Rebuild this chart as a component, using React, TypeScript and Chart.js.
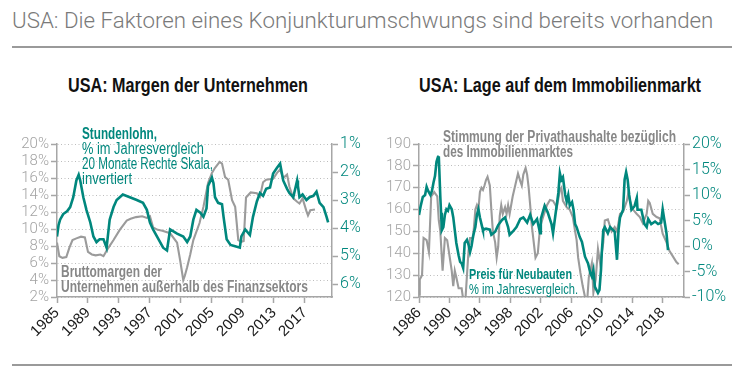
import React, { useEffect, useRef } from "react";
import { Chart, registerables } from "chart.js";
Chart.register(...registerables);

const SANS = "'Liberation Sans', Arial, sans-serif";
const LIGHT = "Roboto, 'Noto Sans', sans-serif";
const TEAL = "#00877d";
const GRAY = "#9b9b9b";
const NOTE_GRAY = "#878787";
const AXIS = "#a6a6a6";

// ---------- Left chart: USA Margen der Unternehmen ----------
const leftXTicks = [1985, 1989, 1993, 1997, 2001, 2005, 2009, 2013, 2017];
const rightAxisLeftTicks = [1, 2, 3, 4, 5, 6];

const marginYears = [
  1985.0, 1985.3, 1985.7, 1986.2, 1986.6, 1987.0, 1987.5, 1988.1, 1988.6, 1989.0,
  1989.5, 1990.0, 1990.6, 1991.0, 1991.5, 1992.3, 1993.1, 1994.0, 1994.5, 1995.2,
  1996.0, 1996.6, 1997.0, 1997.4, 1998.0, 1998.6, 1999.6, 2000.5, 2000.9, 2001.3,
  2001.5, 2001.8, 2002.2, 2002.6, 2003.4, 2003.9, 2004.5, 2005.0, 2005.4, 2006.0,
  2006.3, 2006.7, 2007.1, 2007.6, 2008.0, 2008.2, 2008.4, 2008.8, 2009.1, 2009.4,
  2010.0, 2010.8, 2011.2, 2011.6, 2012.0, 2012.9, 2013.4, 2013.8, 2014.2, 2014.7,
  2015.0, 2015.5, 2016.0, 2016.3, 2016.7, 2017.2, 2017.4, 2017.7, 2018.3,
];
const marginValues = [
  8.4, 6.8, 6.6, 6.7, 7.8, 8.7, 8.9, 9.1, 9.0, 7.3,
  7.0, 6.9, 7.0, 6.8, 7.6, 8.7, 9.9, 11.0, 11.2, 11.4,
  11.5, 11.3, 11.5, 10.2, 9.9, 9.8, 9.5, 8.4, 6.3, 4.0,
  4.5, 5.5, 7.0, 8.7, 10.7, 12.6, 15.4, 16.6, 17.2, 17.9,
  17.7, 16.1, 15.8, 13.4, 12.6, 10.7, 8.7, 8.5, 8.6, 13.7,
  14.3, 14.2, 13.8, 15.5, 15.8, 15.9, 16.6, 17.0, 16.0, 16.4,
  15.0, 13.6, 13.2, 13.0, 13.6, 12.1, 11.6, 12.2, 12.3,
];

const wageYears = [
  1985.0, 1985.2, 1985.4, 1985.8, 1986.3, 1986.7, 1987.1, 1987.5, 1987.8, 1988.0,
  1988.4, 1988.8, 1989.3, 1989.7, 1990.1, 1990.5, 1991.0, 1991.4, 1991.8, 1992.3,
  1992.7, 1993.5, 1994.4, 1995.3, 1996.1, 1996.6, 1997.0, 1997.4, 1997.9, 1998.7,
  1999.2, 1999.6, 2000.5, 2001.3, 2001.8, 2002.2, 2002.6, 2003.0, 2003.5, 2003.9,
  2004.3, 2004.5, 2005.0, 2005.2, 2005.4, 2005.8, 2006.3, 2006.5, 2006.9, 2007.4,
  2008.0, 2008.6, 2008.8, 2009.3, 2009.9, 2010.3, 2010.8, 2011.2, 2011.6, 2012.0,
  2012.5, 2012.9, 2013.4, 2013.8, 2014.0, 2014.2, 2014.7, 2015.0, 2015.5, 2016.0,
  2016.1, 2016.3, 2016.7, 2017.2, 2017.6, 2018.1, 2018.5, 2018.9, 2019.4, 2019.8,
  2020.0,
];
const wageValues = [
  4.3, 3.9, 3.7, 3.5, 3.4, 3.25, 2.9, 2.3, 2.1, 2.3,
  2.9, 3.35, 3.8, 4.3, 4.5, 4.4, 4.4, 4.7, 3.7, 3.25,
  3.0, 2.8, 2.9, 3.0, 3.1, 3.35, 3.8, 4.05, 4.3, 4.7,
  4.8, 4.05, 4.2, 4.3, 4.5, 4.3, 3.7, 3.35, 3.45, 3.6,
  3.3, 2.5, 2.2, 2.4, 2.9, 3.1, 3.15, 3.6, 4.4, 4.6,
  4.65, 4.7, 4.3, 4.05, 4.25, 3.6, 3.05, 2.75, 2.85, 2.6,
  2.55, 2.05, 1.85, 1.7, 2.0, 2.3, 2.6, 2.75, 2.9, 2.3,
  2.5, 2.9, 2.8, 3.0, 2.9, 2.85, 2.7, 3.1, 3.25, 3.6,
  3.8,
];

// ---------- Right chart: USA Lage auf dem Immobilienmarkt ----------
const rightXTicks = [1986, 1990, 1994, 1998, 2002, 2006, 2010, 2014, 2018];

const sentimentYears = [
  1986.0, 1986.1, 1986.4, 1986.6, 1987.0, 1987.3, 1987.6, 1988.0, 1988.4, 1988.6,
  1988.8, 1989.0, 1989.1, 1989.4, 1989.7, 1990.0, 1990.3, 1990.5, 1990.7, 1990.9,
  1991.2, 1991.6, 1991.8, 1992.1, 1992.3, 1992.5, 1992.7, 1993.1, 1993.4, 1993.6,
  1993.8, 1994.0, 1994.2, 1994.4, 1994.6, 1994.8, 1995.0, 1995.3, 1995.5, 1995.7,
  1996.0, 1996.2, 1996.4, 1996.6, 1996.8, 1997.0, 1997.3, 1997.5, 1997.7, 1997.9,
  1998.3, 1998.8, 1999.0, 1999.3, 1999.5, 1999.7, 2000.0, 2000.2, 2000.4, 2000.6,
  2000.8, 2001.0, 2001.3, 2001.6, 2001.9, 2002.3, 2002.8, 2003.2, 2003.6, 2004.1,
  2004.5, 2004.7, 2004.9, 2005.4, 2005.8, 2006.2, 2006.5, 2006.7, 2006.9, 2007.2,
  2007.5, 2007.8, 2008.1, 2008.3, 2008.7, 2008.9, 2009.2, 2009.5, 2009.8, 2010.2,
  2010.4, 2010.8, 2011.3, 2011.7, 2012.0, 2012.4, 2012.8, 2013.3, 2013.5, 2013.7,
  2014.1, 2014.6, 2015.0, 2015.4, 2015.9, 2016.1, 2016.3, 2016.7, 2017.2, 2017.6,
  2018.0, 2018.5, 2018.9, 2019.3, 2019.8, 2020.1,
];
const sentimentValues = [
  121, 128, 130, 147, 146, 140.5, 166, 168, 166, 155,
  150, 138, 132, 147, 146, 139, 132, 125, 132, 129,
  124, 124, 119, 119, 130, 141, 147, 147, 160, 162,
  160, 168, 170, 169, 171, 173.5, 175, 171, 160, 150,
  145, 138, 143, 157, 162, 158, 161, 158, 162, 158,
  166, 173.5, 176.5, 173, 171, 176, 179, 176, 170, 162,
  153, 147, 138, 140, 152, 156.6, 162, 164.4, 164, 161,
  169, 170, 164, 161, 160, 156.6, 150, 146, 138, 131,
  125, 120, 119, 129, 135.5, 122, 128, 142, 135, 145,
  155, 155.5, 150, 152, 150, 158, 159, 164, 168, 164,
  160, 158, 156.6, 153.8, 158, 164, 163, 158, 156.6, 156,
  149, 145, 141, 138.8, 136, 135,
];

const priceYears = [
  1986.0, 1986.2, 1986.5, 1986.8, 1987.0, 1987.2, 1987.5, 1987.7, 1987.9, 1988.1,
  1988.3, 1988.5, 1988.6, 1988.8, 1988.9, 1989.0, 1989.2, 1989.4, 1989.6, 1989.8,
  1990.0, 1990.3, 1990.5, 1990.7, 1990.9, 1991.2, 1991.4, 1991.6, 1991.8, 1992.0,
  1992.3, 1992.5, 1992.7, 1992.9, 1993.1, 1993.4, 1993.6, 1993.8, 1994.0, 1994.3,
  1994.4, 1994.8, 1995.3, 1995.5, 1996.0, 1996.4, 1996.9, 1997.3, 1997.7, 1997.9,
  1998.3, 1998.8, 1999.3, 1999.7, 2000.2, 2000.6, 2001.0, 2001.5, 2001.9, 2002.0,
  2002.5, 2002.9, 2003.4, 2003.6, 2003.8, 2004.3, 2004.5, 2004.7, 2004.9, 2005.2,
  2005.4, 2005.6, 2005.8, 2006.1, 2006.3, 2006.5, 2006.7, 2007.1, 2007.4, 2007.8,
  2008.2, 2008.5, 2008.7, 2008.9, 2009.1, 2009.3, 2009.5, 2009.7, 2009.9, 2010.0,
  2010.2, 2010.4, 2010.6, 2010.8, 2011.1, 2011.5, 2011.7, 2012.0, 2012.2, 2012.4,
  2012.8, 2013.0, 2013.2, 2013.4, 2013.6, 2013.9, 2014.3, 2014.6, 2014.7, 2015.2,
  2015.6, 2015.9, 2016.1, 2016.5, 2017.0, 2017.4, 2017.8, 2018.0, 2018.2, 2018.5,
  2018.7,
];
const priceValues = [
  6.1, 7.7, 9.6, 10.0, 11.6, 10.8, 10.0, 10.8, 12.4, 13.7,
  16.5, 17.5, 17.6, 9.6, 6.5, 3.1, 3.7, 6.1, 7.2, 6.9,
  8.0, 7.2, 5.6, 3.1, 0.6, -1.8, -3.1, -3.4, -4.3, 0.6,
  1.2, 0.3, -1.2, 0.0, 1.9, 3.7, 6.1, 7.2, 5.6, 3.7,
  3.1, 3.4, 3.2, 2.2, 2.8, 4.1, 5.1, 5.6, 3.7, 2.2,
  2.8, 3.7, 5.3, 5.6, 4.6, 6.1, 4.3, 5.3, 2.5, 5.3,
  7.9, 6.6, 4.3, 2.5, 4.8, 10.4, 14.3, 13.0, 13.5, 10.0,
  8.7, 10.0, 7.9, 8.6, 7.0, 4.3, 3.7, 1.8, 0.8, -2.1,
  -3.4, -5.3, -6.0, -4.7, -8.0, -8.6, -9.2, -8.6, -4.7, -1.4,
  3.1, 3.7, 3.1, 2.5, 3.7, 3.1, 2.8, -2.7, 3.1, 5.6,
  7.1, 13.0, 14.5, 13.0, 10.0, 7.1, 7.8, 9.4, 7.1, 7.1,
  4.3, 3.7, 5.3, 4.3, 4.8, 4.3, 4.6, 7.2, 5.3, 2.5,
  -0.8,
];

// Annotation texts (x, y = left/middle in canvas coords; w = target width)
type Note = { text: string; x: number; y: number; w: number; bold?: boolean; color: string; size: number };

const leftNotes: Note[] = [
  { text: "Stundenlohn,", x: 82, y: 35, w: 75, bold: true, color: TEAL, size: 16 },
  { text: "% im Jahresvergleich", x: 82, y: 50, w: 122, color: TEAL, size: 16 },
  { text: "20 Monate Rechte Skala,", x: 82, y: 65, w: 131, color: TEAL, size: 16 },
  { text: "invertiert", x: 82, y: 80, w: 50, color: TEAL, size: 16 },
  { text: "Bruttomargen der", x: 61, y: 173, w: 101, bold: true, color: NOTE_GRAY, size: 16 },
  { text: "Unternehmen außerhalb des Finanzsektors", x: 61, y: 188, w: 247, bold: true, color: NOTE_GRAY, size: 16 },
];
const rightNotes: Note[] = [
  { text: "Stimmung der Privathaushalte bezüglich", x: 71, y: 38, w: 233, bold: true, color: NOTE_GRAY, size: 16 },
  { text: "des Immobilienmarktes", x: 71, y: 53, w: 130, bold: true, color: NOTE_GRAY, size: 16 },
  { text: "Preis für Neubauten", x: 97, y: 175, w: 103, bold: true, color: TEAL, size: 15 },
  { text: "% im Jahresvergleich.", x: 97, y: 190, w: 109, color: TEAL, size: 15 },
];

let measureCtx: CanvasRenderingContext2D | null = null;
function textWidth(text: string, font: string) {
  if (!measureCtx) measureCtx = document.createElement("canvas").getContext("2d");
  measureCtx!.font = font;
  return measureCtx!.measureText(text).width;
}

function pts(xs: number[], ys: number[]) {
  return xs.map((x, i) => ({ x, y: ys[i] }));
}

function notesPlugin(notes: Note[]) {
  return {
    id: "notes",
    afterDraw(chart: any) {
      const ctx = chart.ctx;
      for (const n of notes) {
        const font = `${n.bold ? "bold " : ""}${n.size}px ${SANS}`;
        ctx.save();
        ctx.font = font;
        const w0 = ctx.measureText(n.text).width;
        ctx.textBaseline = "middle";
        ctx.textAlign = "left";
        ctx.fillStyle = n.color;
        ctx.translate(n.x, n.y);
        ctx.scale(n.w / w0, 1);
        ctx.fillText(n.text, 0, 0);
        ctx.restore();
      }
    },
  };
}

function makeConfig(opts: {
  xMin: number; xMax: number; xTicks: number[];
  yMin: number; yMax: number; yStep: number; yFmt: (v: number) => string; ySize: number;
  y1Min: number; y1Max: number; y1Ticks?: number[]; y1Step?: number; y1Reverse: boolean; y1Fmt: (v: number) => string;
  leftW: number; rightW: number;
  tealData: { x: number; y: number }[]; grayData: { x: number; y: number }[];
  notes: Note[];
}): any {
  return {
    type: "line",
    data: {
      datasets: [
        { data: opts.tealData, yAxisID: "y1", borderColor: TEAL, borderWidth: 2.6, pointRadius: 0, tension: 0, fill: false },
        { data: opts.grayData, yAxisID: "y", borderColor: GRAY, borderWidth: 2.1, pointRadius: 0, tension: 0, fill: false },
      ],
    },
    options: {
      animation: false,
      responsive: false,
      devicePixelRatio: 1,
      layout: { padding: { top: 44, left: 0, right: 0, bottom: 0 } },
      plugins: { legend: { display: false }, tooltip: { enabled: false }, title: { display: false } },
      scales: {
        x: {
          type: "linear",
          min: opts.xMin,
          max: opts.xMax,
          afterBuildTicks: (s: any) => { s.ticks = opts.xTicks.map((v) => ({ value: v })); },
          afterFit: (s: any) => { s.height = 63; },
          grid: { drawOnChartArea: false, tickLength: 6, tickColor: AXIS, tickWidth: 1.5 },
          border: { color: AXIS, width: 1.5 },
          ticks: {
            autoSkip: false, maxRotation: 45, minRotation: 45, padding: 1,
            color: "#1a1a1a", font: { family: SANS, size: 15 },
            callback: (v: number) => String(v),
          },
        },
        y: {
          position: "left",
          min: opts.yMin,
          max: opts.yMax,
          afterFit: (s: any) => { s.width = opts.leftW; },
          ticks: { autoSkip: false, stepSize: opts.yStep, color: "#a3a3a3", font: { family: LIGHT, size: opts.ySize, weight: "300" }, padding: 2, callback: (v: number) => opts.yFmt(v) },
          grid: { color: "#bdbdbd", lineWidth: 1, tickLength: 6, tickColor: AXIS, tickWidth: 1.5, tickBorderDash: [] },
          border: { color: AXIS, width: 1.5, dash: [1, 2.5] },
        },
        y1: {
          position: "right",
          min: opts.y1Min,
          max: opts.y1Max,
          reverse: opts.y1Reverse,
          afterBuildTicks: opts.y1Ticks ? (s: any) => { s.ticks = opts.y1Ticks!.map((v) => ({ value: v })); } : undefined,
          afterFit: (s: any) => { s.width = opts.rightW; },
          ticks: { autoSkip: false, stepSize: opts.y1Step, color: TEAL, font: { family: LIGHT, size: 16, weight: "300" }, padding: 2, callback: (v: number) => opts.y1Fmt(v) },
          grid: { drawOnChartArea: false, tickLength: 6, tickColor: AXIS, tickWidth: 1.5 },
          border: { color: AXIS, width: 1.5 },
        },
      },
    },
    plugins: [notesPlugin(opts.notes)],
  };
}

function FitText(props: { text: string; font: string; center: number; top: number; width: number; color: string; lineHeight: number }) {
  const s = props.width / textWidth(props.text, props.font);
  return (
    <div style={{ position: "absolute", left: props.center - props.width / 2, top: props.top, width: props.width, whiteSpace: "nowrap", lineHeight: `${props.lineHeight}px` }}>
      <span style={{ display: "inline-block", font: props.font, color: props.color, transform: `scaleX(${s})`, transformOrigin: "left center", lineHeight: `${props.lineHeight}px` }}>{props.text}</span>
    </div>
  );
}

export default function App() {
  const leftRef = useRef<HTMLCanvasElement>(null);
  const rightRef = useRef<HTMLCanvasElement>(null);

  useEffect(() => {
    const c1 = new Chart(
      leftRef.current!,
      makeConfig({
        xMin: 1985, xMax: 2020.5, xTicks: leftXTicks,
        yMin: 2, yMax: 20, yStep: 2, yFmt: (v) => `${v}%`, ySize: 15,
        y1Min: 1, y1Max: 6.46, y1Ticks: rightAxisLeftTicks, y1Reverse: true, y1Fmt: (v) => `${v}%`,
        leftW: 57, rightW: 40,
        tealData: pts(wageYears, wageValues), grayData: pts(marginYears, marginValues),
        notes: leftNotes,
      })
    );
    const c2 = new Chart(
      rightRef.current!,
      makeConfig({
        xMin: 1986, xMax: 2020.8, xTicks: rightXTicks,
        yMin: 120, yMax: 190, yStep: 10, yFmt: (v) => `${v}`, ySize: 15,
        y1Min: -10, y1Max: 20, y1Step: 5, y1Reverse: false, y1Fmt: (v) => `${v}%`,
        leftW: 47, rightW: 60,
        tealData: pts(priceYears, priceValues), grayData: pts(sentimentYears, sentimentValues),
        notes: rightNotes,
      })
    );
    return () => { c1.destroy(); c2.destroy(); };
  }, []);

  const subFont = `bold 20px ${SANS}`;

  return (
    <div style={{ position: "absolute", left: 0, top: 0, width: 744, height: 372, background: "#fff", overflow: "hidden" }}>
      <div style={{ position: "absolute", left: 12, top: 6, fontFamily: LIGHT, fontWeight: 300, fontSize: 22.3, lineHeight: "28px", color: "#7a7a7a", whiteSpace: "nowrap" }}>
        USA: Die Faktoren eines Konjunkturumschwungs sind bereits vorhanden
      </div>
      <div style={{ position: "absolute", left: 12, top: 46, width: 720, height: 1.5, background: "#9a9a9a" }} />
      <FitText text="USA: Margen der Unternehmen" font={subFont} center={188} top={74} width={240} color="#111" lineHeight={22} />
      <FitText text="USA: Lage auf dem Immobilienmarkt" font={subFont} center={560} top={74} width={282} color="#111" lineHeight={22} />
      <div style={{ position: "absolute", left: 0, top: 100, width: 372, height: 260 }}>
        <canvas ref={leftRef} width={372} height={260} style={{ width: 372, height: 260, display: "block" }} />
      </div>
      <div style={{ position: "absolute", left: 372, top: 100, width: 372, height: 260 }}>
        <canvas ref={rightRef} width={372} height={260} style={{ width: 372, height: 260, display: "block" }} />
      </div>
      <div style={{ position: "absolute", left: 12, top: 364, width: 720, height: 1.5, background: "#9a9a9a" }} />
    </div>
  );
}
